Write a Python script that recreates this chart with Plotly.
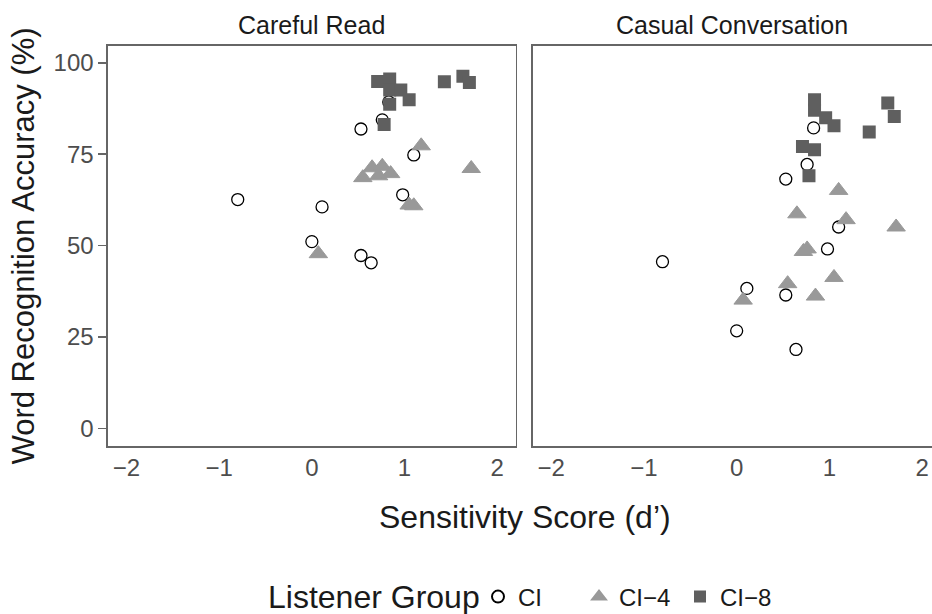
import plotly.graph_objects as go

# ---- data ----
groups = ["CI", "CI\u22124", "CI\u22128"]

ci_dprime = [-0.80, 0.11, 0.00, 0.53, 0.64, 0.53, 0.76, 0.83, 1.10, 0.98]
ci_careful = [62.6, 60.6, 51.1, 47.3, 45.3, 81.9, 84.4, 89.3, 74.8, 63.9]
ci_casual = [45.6, 38.3, 26.7, 36.5, 21.6, 68.2, 72.2, 82.2, 55.1, 49.1]

ci4_dprime = [0.07, 0.55, 0.65, 0.72, 0.76, 0.85, 1.05, 1.10, 1.18, 1.72]
ci4_careful = [47.8, 68.6, 71.3, 69.1, 71.7, 69.7, 61.1, 60.9, 77.3, 71.1]
ci4_casual = [35.1, 39.6, 58.7, 48.4, 49.1, 36.2, 41.3, 65.1, 57.1, 55.1]

ci8_dprime = [0.71, 0.84, 0.84, 0.96, 1.05, 0.84, 0.78, 1.43, 1.63, 1.70]
ci8_careful = [94.9, 95.6, 92.6, 92.6, 89.9, 88.7, 83.1, 94.8, 96.3, 94.6]
ci8_casual = [77.1, 89.9, 87.0, 85.0, 82.8, 76.2, 69.1, 81.1, 89.0, 85.3]

panel_titles = ["Careful Read", "Casual Conversation"]
x_ticks = [-2, -1, 0, 1, 2]
y_ticks = [0, 25, 50, 75, 100]

FONT = "Liberation Sans, Arial, Helvetica, sans-serif"
BORDER = "#666666"
TICKCOL = "#4D4D4D"
TXT = "#1A1A1A"

styles = [
    dict(symbol="circle-open", size=12, color="black", line=dict(color="black", width=1.3)),
    dict(symbol="triangle-up", size=16, color="#999999", line=dict(color="#999999", width=1)),
    dict(symbol="square", size=13, color="#5F5F5F", line=dict(width=0)),
]

data = [
    (ci_dprime, ci_careful, ci_casual),
    (ci4_dprime, ci4_careful, ci4_casual),
    (ci8_dprime, ci8_careful, ci8_casual),
]

fig = go.Figure()
for g, (xs, y1, y2), st in zip(groups, data, styles):
    fig.add_trace(go.Scatter(x=xs, y=y1, mode="markers", name=g, legendgroup=g,
                             marker=st, xaxis="x", yaxis="y", hoverinfo="skip"))
    fig.add_trace(go.Scatter(x=xs, y=y2, mode="markers", name=g, legendgroup=g,
                             marker=st, xaxis="x2", yaxis="y2", showlegend=False,
                             hoverinfo="skip"))

axis_common = dict(showgrid=False, zeroline=False, showline=True, linecolor=BORDER,
                   linewidth=1.6, tickfont=dict(family=FONT, size=24, color=TICKCOL))

fig.update_layout(
    width=932, height=614,
    margin=dict(l=108, r=0, t=46, b=168, autoexpand=False),
    paper_bgcolor="white", plot_bgcolor="white",
    font=dict(family=FONT, color=TXT),
    xaxis=dict(domain=[0, 0.4948], range=[-2.2, 2.2], tickvals=x_ticks, ticks="",
               mirror=True, anchor="y", **axis_common),
    xaxis2=dict(domain=[0.5154, 1], range=[-2.2, 2.107], tickvals=x_ticks, ticks="",
                mirror=True, anchor="y2", **axis_common),
    yaxis=dict(domain=[0, 1], range=[-4.8, 104.6], tickvals=y_ticks, ticks="outside",
               ticklen=8, tickwidth=1.6, tickcolor=BORDER, mirror=True, anchor="x",
               title=dict(text="Word Recognition Accuracy (%)",
                          font=dict(family=FONT, size=31, color=TXT), standoff=10),
               **axis_common),
    yaxis2=dict(domain=[0, 1], range=[-4.8, 104.6], tickvals=y_ticks, ticks="",
                showticklabels=False, mirror=False, anchor="x2", matches="y",
                **axis_common),
    legend=dict(orientation="h", x=(478 - 108) / 824, xanchor="left",
                y=(446 - 597) / 400, yanchor="middle",
                font=dict(family=FONT, size=24, color=TXT),
                entrywidth=56, entrywidthmode="pixels",
                itemsizing="constant", bgcolor="rgba(0,0,0,0)"),
    showlegend=True,
)

annots = [
    dict(text=panel_titles[0], x=0.2474, y=1.0525, xref="paper", yref="paper",
         xanchor="center", yanchor="middle", showarrow=False,
         font=dict(family=FONT, size=25, color=TXT)),
    dict(text=panel_titles[1], x=0.7577, y=1.0525, xref="paper", yref="paper",
         xanchor="center", yanchor="middle", showarrow=False,
         font=dict(family=FONT, size=25, color=TXT)),
    dict(text="Sensitivity Score (d\u2019)", x=0.5057, y=-0.1775, xref="paper", yref="paper",
         xanchor="center", yanchor="middle", showarrow=False,
         font=dict(family=FONT, size=32, color=TXT)),
    dict(text="Listener Group", x=(482 - 108) / 824, y=(446 - 597) / 400,
         xref="paper", yref="paper", xanchor="right", yanchor="middle", showarrow=False,
         font=dict(family=FONT, size=32, color=TXT)),
]
fig.update_layout(annotations=annots)

fig.write_html(
    "out.html",
    config={"displayModeBar": False, "staticPlot": True},
    post_script="document.body.style.margin='0';document.body.style.overflow='hidden';",
)
